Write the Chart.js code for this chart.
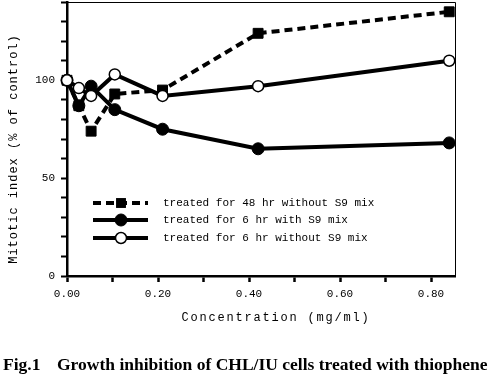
<!DOCTYPE html>
<html>
<head>
<meta charset="utf-8">
<script src="https://cdn.jsdelivr.net/npm/chart.js@4.4.1/dist/chart.umd.min.js"></script>
<style>
html,body{margin:0;padding:0;background:#fff;}
#wrap{width:491px;height:377px;}
</style>
</head>
<body>
<div id="wrap"><canvas id="c" width="491" height="377"></canvas></div>
<script>
// ---- data ----
const concentrations = [0, 0.026, 0.053, 0.105, 0.21, 0.42, 0.84];
const treated48hrNoS9 = [100, 87, 74, 93, 95, 124, 135];
const treated6hrWithS9 = [100, 87, 97, 85, 75, 65, 68];
const treated6hrNoS9 = [100, 96, 92, 103, 92, 97, 110];
const seriesLabels = [
  'treated for 48 hr without S9 mix',
  'treated for 6 hr with S9 mix',
  'treated for 6 hr without S9 mix'
];
const xTickValues = [0, 0.1, 0.2, 0.3, 0.4, 0.5, 0.6, 0.7, 0.8];
const yTickValues = [0, 10, 20, 30, 40, 50, 60, 70, 80, 90, 100, 110, 120, 130, 140];
const yAxisTitle = 'Mitotic index (% of control)';
const xAxisTitle = 'Concentration (mg/ml)';
const captionFig = 'Fig.1';
const captionText = 'Growth inhibition of CHL/IU cells treated with thiophene';

const pts = arr => arr.map((v, i) => ({x: concentrations[i], y: v}));

const datasets = [
  {label: seriesLabels[2], data: pts(treated6hrNoS9), borderColor: '#000', borderWidth: 4, clip: false,
   pointStyle: 'circle', pointRadius: 5.5, pointBackgroundColor: '#fff', pointBorderColor: '#000', pointBorderWidth: 1.5, order: 0, legendIndex: 2},
  {label: seriesLabels[1], data: pts(treated6hrWithS9), borderColor: '#000', borderWidth: 4, clip: false,
   pointStyle: 'circle', pointRadius: 6, pointBackgroundColor: '#000', pointBorderColor: '#000', pointBorderWidth: 1, order: 1, legendIndex: 1},
  {label: seriesLabels[0], data: pts(treated48hrNoS9), borderColor: '#000', borderWidth: 4, borderDash: [8, 5], clip: false,
   pointStyle: 'rect', pointRadius: 7, pointBackgroundColor: '#000', pointBorderColor: '#000', pointBorderWidth: 1, order: 2, legendIndex: 0}
];

const MONO = '"Liberation Mono", "DejaVu Sans Mono", monospace';

const decorPlugin = {
  id: 'decor',
  afterDraw(chart) {
    const ctx = chart.ctx;
    const a = chart.chartArea;
    ctx.save();
    // thin top and right frame
    ctx.strokeStyle = '#000';
    ctx.lineWidth = 1;
    ctx.beginPath();
    ctx.moveTo(a.left, a.top + 0.5);
    ctx.lineTo(a.right + 0.5, a.top + 0.5);
    ctx.lineTo(a.right + 0.5, a.bottom);
    ctx.stroke();

    // legend
    const order = [...chart.data.datasets].sort((p, q) => p.legendIndex - q.legendIndex);
    const rowY = [203, 220, 238];
    order.forEach((ds, i) => {
      const y = rowY[i];
      ctx.setLineDash(ds.borderDash || []);
      ctx.lineWidth = ds.borderWidth;
      ctx.strokeStyle = ds.borderColor;
      ctx.beginPath();
      ctx.moveTo(93, y);
      ctx.lineTo(148, y);
      ctx.stroke();
      ctx.setLineDash([]);
      const mx = 121;
      ctx.fillStyle = ds.pointBackgroundColor;
      ctx.strokeStyle = ds.pointBorderColor;
      ctx.lineWidth = ds.pointBorderWidth;
      if (ds.pointStyle === 'rect') {
        const s = ds.pointRadius * Math.SQRT2 / 2;
        ctx.fillRect(mx - s, y - s, 2 * s, 2 * s);
      } else {
        ctx.beginPath();
        ctx.arc(mx, y, ds.pointRadius, 0, Math.PI * 2);
        ctx.fill();
        ctx.stroke();
      }
      ctx.fillStyle = '#000';
      ctx.font = '11px ' + MONO;
      ctx.textAlign = 'left';
      ctx.textBaseline = 'middle';
      ctx.fillText(ds.label, 163, y);
    });

    // axis titles
    ctx.fillStyle = '#000';
    ctx.font = '12px ' + MONO;
    ctx.letterSpacing = '1px';
    ctx.textAlign = 'center';
    ctx.textBaseline = 'middle';
    ctx.save();
    ctx.translate(14, 149);
    ctx.rotate(-Math.PI / 2);
    ctx.fillText(yAxisTitle, 0, 0);
    ctx.restore();
    ctx.letterSpacing = '1.8px';
    ctx.fillText(xAxisTitle, 276, 318);
    ctx.letterSpacing = '0px';

    // caption
    ctx.font = 'bold 17.5px "Liberation Serif", "DejaVu Serif", serif';
    ctx.textAlign = 'left';
    ctx.textBaseline = 'alphabetic';
    ctx.fillText(captionFig, 3, 370);
    ctx.fillText(captionText, 57, 370);
    ctx.restore();
  }
};

new Chart(document.getElementById('c'), {
  type: 'line',
  data: {datasets},
  options: {
    responsive: false,
    animation: false,
    devicePixelRatio: 1,
    layout: {autoPadding: false, padding: {top: 2, right: 36, left: 0, bottom: 0}},
    plugins: {legend: {display: false}, tooltip: {enabled: false}},
    elements: {line: {tension: 0, fill: false}},
    scales: {
      x: {
        type: 'linear', min: 0, max: 0.8527,
        afterBuildTicks: s => { s.ticks = xTickValues.map(v => ({value: v})); },
        afterFit: s => { s.height = 101; s.paddingLeft = 0; s.paddingRight = 0; },
        ticks: {
          autoSkip: false, maxRotation: 0, padding: 5, color: '#000',
          font: {family: MONO, size: 11},
          callback: v => (Math.round(v * 10) % 2 === 0 ? v.toFixed(2) : '')
        },
        grid: {display: true, drawOnChartArea: false, drawTicks: true, tickLength: 6, tickWidth: 2.5, color: '#000'},
        border: {display: true, width: 2.5, color: '#000'}
      },
      y: {
        type: 'linear', min: 0, max: 140,
        afterBuildTicks: s => { s.ticks = yTickValues.map(v => ({value: v})); },
        afterFit: s => { s.width = 67; s.paddingTop = 0; s.paddingBottom = 0; },
        ticks: {
          autoSkip: false, padding: 6, color: '#000',
          font: {family: MONO, size: 11},
          callback: v => (v % 50 === 0 ? String(v) : '')
        },
        grid: {display: true, drawOnChartArea: false, drawTicks: true, tickLength: 6, tickWidth: 2, color: '#000'},
        border: {display: true, width: 2.5, color: '#000'}
      }
    }
  },
  plugins: [decorPlugin]
});
</script>
</body>
</html>
